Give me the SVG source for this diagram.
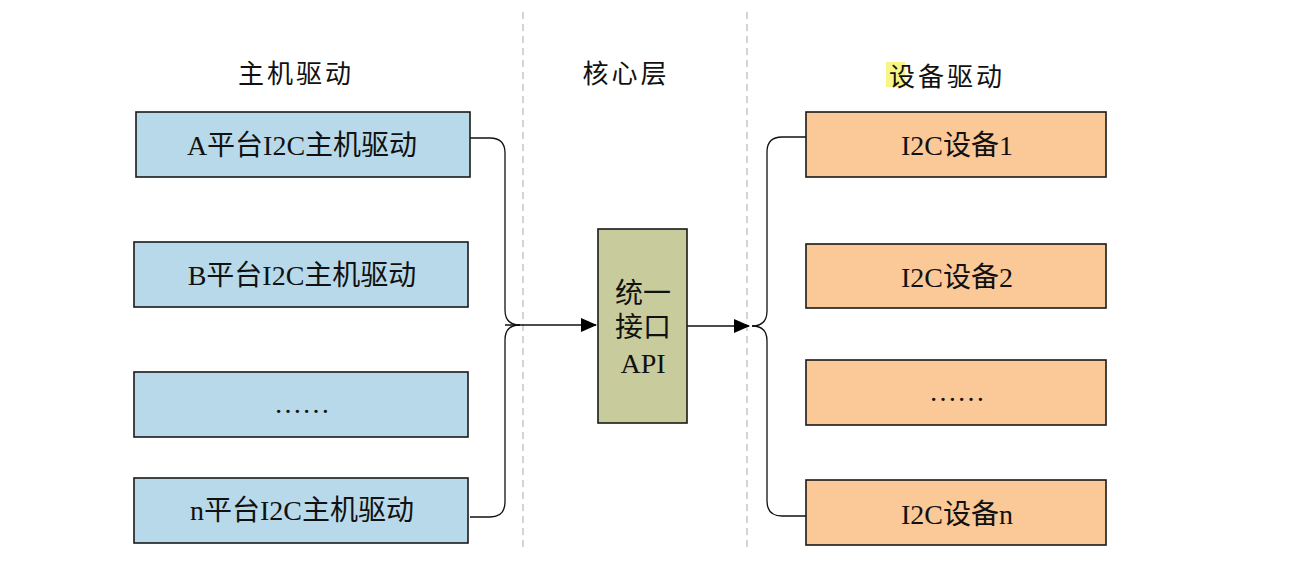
<svg xmlns="http://www.w3.org/2000/svg" width="1298" height="567" viewBox="0 0 1298 567">
<style>
text{font-family:"Liberation Serif","Noto Sans CJK SC",serif;fill:#111;text-anchor:middle;dominant-baseline:central}
.h{font-size:26px;letter-spacing:3px}
.t{font-size:28px}
.host{fill:#b8d9e9;stroke:#1a1a1a;stroke-width:1.6}
.dev{fill:#fbc897;stroke:#1a1a1a;stroke-width:1.6}
.core{fill:#c8cc9c;stroke:#1a1a1a;stroke-width:1.6}
.sep{stroke:#bdbdbd;stroke-width:1.3;stroke-dasharray:7 5;fill:none}
.c{stroke:#111;stroke-width:1.3;fill:none}
</style>
<defs>
<marker id="arr" markerWidth="16" markerHeight="14" refX="15" refY="7" orient="auto" markerUnits="userSpaceOnUse">
<path d="M0,0 L16,7 L0,14 Z" fill="#000"/>
</marker>
</defs>
<rect width="1298" height="567" fill="#fff"/>
<g id="separators">
<line class="sep" x1="523" y1="12" x2="523" y2="552"/>
<line class="sep" x1="747" y1="12" x2="747" y2="552"/>
</g>
<g id="headers">
<text class="h" x="296" y="74">主机驱动</text>
<text class="h" x="626" y="74">核心层</text>
<rect x="886" y="62" width="19" height="25" fill="#f6f26a" opacity="0.8"/>
<text class="h" x="889" y="77" style="text-anchor:start">设备驱动</text>
</g>
<g id="connectors">
<path class="c" d="M470,138 H490 Q505,138 505,153 V310 Q505,325 520,325"/>
<path class="c" d="M470,517 H490 Q505,517 505,502 V340 Q505,325 520,325"/>
<line class="c" x1="505" y1="325" x2="596" y2="325" marker-end="url(#arr)"/>
<line class="c" x1="687" y1="326" x2="749" y2="326" marker-end="url(#arr)"/>
<path class="c" d="M806,137 H782 Q767,137 767,152 V311 Q767,326 752,326"/>
<path class="c" d="M806,516 H782 Q767,516 767,501 V341 Q767,326 752,326"/>
</g>
<g id="host-a"><rect class="host" x="136" y="112" width="334" height="65"/><text class="t" x="302" y="145">A平台I2C主机驱动</text></g>
<g id="host-b"><rect class="host" x="134" y="242" width="334" height="65"/><text class="t" x="302" y="275">B平台I2C主机驱动</text></g>
<g id="host-dots"><rect class="host" x="134" y="372" width="334" height="65"/><text class="t" x="302" y="403">……</text></g>
<g id="host-n"><rect class="host" x="134" y="478" width="334" height="65"/><text class="t" x="302" y="510">n平台I2C主机驱动</text></g>
<g id="core"><rect class="core" x="598" y="229" width="89" height="194"/>
<text class="t" x="643" y="293">统一</text>
<text class="t" x="643" y="327">接口</text>
<text class="t" x="643" y="363">API</text></g>
<g id="dev-1"><rect class="dev" x="806" y="112" width="300" height="65"/><text class="t" x="957" y="145">I2C设备1</text></g>
<g id="dev-2"><rect class="dev" x="806" y="244" width="300" height="64"/><text class="t" x="957" y="277">I2C设备2</text></g>
<g id="dev-dots"><rect class="dev" x="806" y="360" width="300" height="65"/><text class="t" x="957" y="391">……</text></g>
<g id="dev-n"><rect class="dev" x="806" y="480" width="300" height="65"/><text class="t" x="957" y="514">I2C设备n</text></g>
</svg>
